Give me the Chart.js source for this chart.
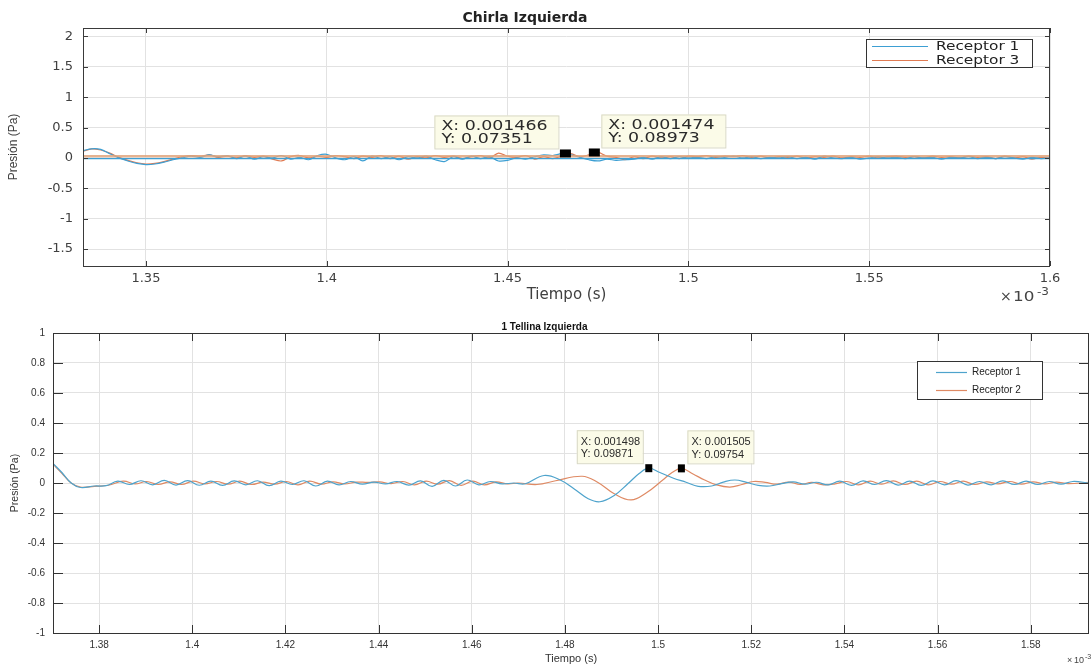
<!DOCTYPE html>
<html>
<head>
<meta charset="utf-8">
<script src="https://cdn.jsdelivr.net/npm/chart.js@4.4.1/dist/chart.umd.min.js"></script>
<style>
    html, body { margin: 0; padding: 0; background: #fff; overflow: hidden; }
    #wrap { position: relative; width: 1091px; height: 668px; }
    canvas { position: absolute; left: 0; }
    #chartChirla { top: 0; }
    #chartTellina { top: 310px; }
</style>
</head>
<body>
<div id="wrap">
    <canvas id="chartChirla" width="1091" height="310"></canvas>
    <canvas id="chartTellina" width="1091" height="358"></canvas>
</div>
<script>
// ---- Datos: Chirla Izquierda (tiempo en x10^-3 s) ----
const tiempoChirla = [
    1.3326, 1.335, 1.3375, 1.34, 1.3425, 1.345, 1.3475, 1.35, 1.3525, 1.355, 1.3575, 1.36,
    1.3625, 1.365, 1.3675, 1.37, 1.3725, 1.375, 1.3775, 1.38, 1.3825, 1.385, 1.3875, 1.39,
    1.3925, 1.395, 1.3975, 1.4, 1.4025, 1.405, 1.4075, 1.41, 1.4125, 1.415, 1.4175, 1.42,
    1.4225, 1.425, 1.4275, 1.43, 1.4325, 1.435, 1.4375, 1.44, 1.4425, 1.445, 1.4475, 1.45,
    1.4525, 1.455, 1.4575, 1.46, 1.4625, 1.465, 1.4675, 1.47, 1.4725, 1.475, 1.4775, 1.48,
    1.4825, 1.485, 1.4875, 1.49, 1.4925, 1.495, 1.4975, 1.5, 1.5025, 1.505, 1.5075, 1.51,
    1.5125, 1.515, 1.5175, 1.52, 1.5225, 1.525, 1.5275, 1.53, 1.5325, 1.535, 1.5375, 1.54,
    1.5425, 1.545, 1.5475, 1.55, 1.5525, 1.555, 1.5575, 1.56, 1.5625, 1.565, 1.5675, 1.57,
    1.5725, 1.575, 1.5775, 1.58, 1.5825, 1.585, 1.5875, 1.59, 1.5925, 1.595, 1.5975, 1.6
];
const chirlaReceptor1 = [
    0.12, 0.15, 0.14, 0.07, 0.0, -0.05, -0.09, -0.11, -0.1, -0.07, -0.03, 0.0,
    0.03, 0.01, 0.05, 0.02, 0.04, -0.01, 0.03, -0.02, 0.02, 0.0, 0.04, -0.02,
    0.01, -0.03, 0.04, 0.06, 0.0, -0.03, 0.02, -0.05, 0.03, -0.01, 0.02, -0.03,
    0.02, 0.0, 0.03, -0.03, -0.06, 0.02, -0.02, 0.03, -0.01, 0.02, -0.05, -0.04,
    0.0, -0.02, 0.02, 0.05, 0.04, 0.07, 0.05, 0.01, -0.03, -0.05, -0.02, -0.04,
    -0.03, -0.02, 0.01, -0.02, 0.02, -0.01, 0.02, 0.0, 0.01, -0.01, 0.02, 0.01,
    0.03, 0.0, 0.02, -0.01, 0.01, 0.0, 0.02, -0.01, 0.01, -0.02, 0.03, 0.0,
    -0.01, 0.01, -0.02, 0.0, 0.02, 0.0, 0.01, -0.01, 0.02, 0.0, 0.01, -0.02,
    0.01, 0.0, 0.02, -0.01, 0.01, -0.01, 0.02, 0.0, -0.02, 0.01, -0.01, 0.0
];
const chirlaReceptor3 = [
    0.11, 0.15, 0.13, 0.08, 0.01, -0.04, -0.08, -0.1, -0.09, -0.06, -0.02, 0.02,
    0.04, 0.03, 0.05, 0.01, 0.03, 0.0, 0.04, 0.01, 0.03, -0.02, -0.05, 0.02,
    0.04, 0.0, 0.03, 0.01, 0.04, 0.02, -0.01, 0.03, 0.01, 0.04, -0.01, 0.03,
    -0.02, 0.02, 0.0, 0.04, 0.01, 0.03, -0.01, 0.02, 0.04, 0.0, 0.08, 0.03,
    0.01, 0.04, -0.02, 0.02, -0.01, 0.03, 0.07, 0.02, 0.05, 0.09, 0.03, 0.01,
    -0.03, 0.02, -0.01, 0.03, 0.0, 0.02, -0.01, 0.03, 0.02, 0.04, 0.01, 0.03,
    0.02, 0.04, 0.01, 0.03, 0.0, 0.02, 0.01, 0.03, 0.0, 0.02, 0.01, 0.03,
    0.0, 0.02, 0.01, 0.03, 0.0, 0.02, 0.03, 0.01, 0.02, 0.0, 0.03, 0.01,
    0.02, 0.0, 0.03, 0.01, 0.02, -0.01, 0.03, 0.0, 0.02, -0.02, 0.01, -0.01
];
// lineas planas que cruzan todo el eje
const chirlaBase1 = -0.01;
const chirlaBase3 = 0.03;
const chirlaTicksX = [1.35, 1.4, 1.45, 1.5, 1.55, 1.6];
const chirlaTicksY = [-1.5, -1, -0.5, 0, 0.5, 1, 1.5, 2];
const chirlaTipX = [1.466, 1.474];
const chirlaTipY = [0.07351, 0.08973];

// ---- Datos: 1 Tellina Izquierda ----
const tiempoTellina1 = [
    1.3701, 1.372, 1.374, 1.376, 1.379, 1.3815,
    1.384, 1.3865, 1.389, 1.3915, 1.394, 1.3965, 1.399, 1.4015, 1.404, 1.4065, 1.409, 1.4115,
    1.414, 1.4165, 1.419, 1.4215, 1.424, 1.4265, 1.429, 1.4315, 1.434, 1.4365, 1.439, 1.4415,
    1.444, 1.4465, 1.449, 1.4515, 1.454, 1.4565, 1.459, 1.4615, 1.464, 1.4665, 1.469,
    1.4715, 1.4755, 1.479, 1.482, 1.485, 1.4875, 1.4905, 1.4935, 1.496, 1.498, 1.5005, 1.5033, 1.506, 1.5086,
    1.5115, 1.514, 1.5165, 1.519, 1.5215, 1.524, 1.5265, 1.529, 1.5315, 1.534, 1.5365, 1.539,
    1.5415, 1.544, 1.5465, 1.549, 1.5515, 1.554, 1.5565, 1.559, 1.5615, 1.564, 1.5665, 1.569,
    1.5715, 1.574, 1.5765, 1.579, 1.5815, 1.584, 1.5865, 1.589, 1.5925
];
const tellinaReceptor1 = [
    0.13, 0.07, 0.0, -0.03, -0.02, -0.018,
    0.012, -0.01, 0.015, -0.012, 0.018, -0.014, 0.016, -0.015, 0.012, -0.016, 0.014, -0.012,
    0.015, -0.018, 0.012, -0.01, 0.015, -0.02, 0.012, -0.012, 0.01, -0.008, 0.006, -0.006,
    0.01, -0.014, 0.014, -0.022, 0.018, -0.02, 0.02, -0.012, 0.01, -0.006, 0.0,
    -0.005, 0.05, 0.02, -0.04, -0.105, -0.125, -0.085, -0.005, 0.065, 0.0987, 0.068, 0.032, 0.005, -0.022,
    -0.02, 0.006, 0.02, 0.004, -0.016, -0.02, -0.004, 0.008, -0.008, 0.005, -0.012, 0.012,
    -0.016, 0.014, -0.01, 0.016, -0.014, 0.012, -0.016, 0.014, -0.012, 0.016, -0.014, 0.01,
    -0.012, 0.014, -0.01, 0.012, -0.01, 0.01, -0.008, 0.01, 0.0
];
const tiempoTellina2 = [
    1.3701, 1.372, 1.374, 1.376, 1.379, 1.382,
    1.3852, 1.3877, 1.3902, 1.3927, 1.3952, 1.3977, 1.4002, 1.4027, 1.4052, 1.4077, 1.4102, 1.4127,
    1.4152, 1.4177, 1.4202, 1.4227, 1.4252, 1.4277, 1.4302, 1.4327, 1.4352, 1.4377, 1.4402, 1.4427,
    1.4452, 1.4477, 1.4502, 1.4527, 1.4552, 1.4577, 1.4602, 1.4627, 1.4652, 1.4677,
    1.47, 1.474, 1.478, 1.4837, 1.487, 1.4905, 1.4942, 1.4975, 1.501, 1.503, 1.505, 1.5075, 1.51, 1.5125, 1.5154, 1.518,
    1.5205, 1.523, 1.5255, 1.528, 1.5305, 1.533, 1.5355, 1.538, 1.5405, 1.543, 1.5455, 1.548,
    1.5505, 1.553, 1.5555, 1.558, 1.5605, 1.563, 1.5655, 1.568, 1.5705, 1.573, 1.5755, 1.578,
    1.5805, 1.583, 1.5855, 1.588, 1.5925
];
const tellinaReceptor2 = [
    0.125, 0.065, 0.0, -0.028, -0.022, -0.015,
    0.012, -0.006, 0.01, -0.01, 0.008, -0.01, 0.012, -0.006, 0.01, -0.008, 0.012, -0.01,
    0.006, -0.008, 0.01, -0.012, 0.012, -0.008, 0.008, -0.006, 0.006, 0.004, 0.008, -0.004,
    0.01, -0.012, 0.012, -0.008, 0.016, -0.016, 0.012, -0.012, 0.008, -0.006,
    0.0, -0.01, 0.015, 0.045, 0.005, -0.07, -0.113, -0.065, 0.02, 0.07, 0.0975, 0.06, 0.02, -0.012, -0.027, -0.01,
    0.01, 0.004, -0.008, 0.006, -0.01, 0.004, -0.012, -0.006, 0.01, -0.012, 0.012, -0.008,
    0.014, -0.01, 0.012, -0.012, 0.01, -0.008, 0.012, -0.01, 0.008, -0.006, 0.01, -0.008,
    0.008, -0.006, 0.006, -0.004, 0.004
];
const tellinaTicksX = [1.38, 1.4, 1.42, 1.44, 1.46, 1.48, 1.5, 1.52, 1.54, 1.56, 1.58];
const tellinaTicksY = [-1, -0.8, -0.6, -0.4, -0.2, 0, 0.2, 0.4, 0.6, 0.8, 1];
const tellinaTipX = [1.498, 1.505];
const tellinaTipY = [0.09871, 0.09754];

function puntos(ts, vs) {
    return ts.map((t, i) => ({ x: t, y: vs[i] }));
}

function textoAncho(ctx, txt, x, y, s) {
    ctx.save();
    ctx.translate(x, y);
    ctx.scale(s, 1);
    ctx.fillText(txt, 0, 0);
    ctx.restore();
}

// marco estilo MATLAB, ticks hacia dentro, datatips, leyenda y exponente
function decoracion(cfg) {
    return {
        id: 'decoracion',
        afterDatasetsDraw(chart) {
            const ctx = chart.ctx, a = chart.chartArea;
            const sx = chart.scales.x, sy = chart.scales.y;
            ctx.save();
            ctx.strokeStyle = cfg.marco;
            ctx.lineWidth = 1;
            ctx.beginPath();
            sx.ticks.forEach(t => {
                const px = Math.round(sx.getPixelForValue(t.value)) + 0.5;
                ctx.moveTo(px, a.bottom); ctx.lineTo(px, a.bottom - cfg.tickX);
                ctx.moveTo(px, a.top); ctx.lineTo(px, a.top + cfg.tickX);
            });
            sy.ticks.forEach(t => {
                const py = Math.round(sy.getPixelForValue(t.value)) + 0.5;
                ctx.moveTo(a.left, py); ctx.lineTo(a.left + cfg.tickY, py);
                ctx.moveTo(a.right, py); ctx.lineTo(a.right - cfg.tickY, py);
            });
            ctx.stroke();
            ctx.strokeRect(Math.round(a.left) + 0.5, Math.round(a.top) + 0.5,
                Math.round(a.width) - 1, Math.round(a.height));

            // datatips
            cfg.tipX.forEach((xv, i) => {
                const px = sx.getPixelForValue(xv), py = sy.getPixelForValue(cfg.tipY[i]);
                const bx = i === 0 ? px - cfg.tipGap - cfg.tipW : px + cfg.tipGap;
                const by = py - cfg.tipLift - cfg.tipH;
                ctx.fillStyle = '#fbfbe8';
                ctx.strokeStyle = '#d9d9c6';
                ctx.fillRect(bx, by, cfg.tipW, cfg.tipH);
                ctx.strokeRect(bx + 0.5, by + 0.5, cfg.tipW, cfg.tipH);
                ctx.fillStyle = '#2a2a2a';
                ctx.font = cfg.tipFont;
                ctx.textBaseline = 'middle';
                ctx.textAlign = 'left';
                textoAncho(ctx, 'X: ' + (xv / 1000).toFixed(6), bx + cfg.tipPad, by + cfg.tipLines[0], cfg.estirar);
                textoAncho(ctx, 'Y: ' + String(cfg.tipY[i]), bx + cfg.tipPad, by + cfg.tipLines[1], cfg.estirar);
                ctx.fillStyle = '#000';
                ctx.fillRect(px - cfg.marca[0] / 2, py - cfg.marca[1] / 2, cfg.marca[0], cfg.marca[1]);
            });

            // leyenda
            const L = cfg.leyenda;
            const lx = a.right - L.dx - L.w, ly = a.top + L.dy;
            ctx.fillStyle = '#fff';
            ctx.fillRect(lx, ly, L.w, L.h);
            ctx.strokeStyle = '#333';
            ctx.strokeRect(lx + 0.5, ly + 0.5, L.w, L.h);
            ctx.font = L.font;
            ctx.textBaseline = 'middle';
            chart.data.datasets.filter(d => d.label).forEach((d, i) => {
                const yy = Math.round(ly + L.fila0 + i * L.filaH) + 0.5;
                ctx.strokeStyle = d.borderColor;
                ctx.lineWidth = 1.2;
                ctx.beginPath();
                ctx.moveTo(lx + L.l0, yy); ctx.lineTo(lx + L.l1, yy);
                ctx.stroke();
                ctx.fillStyle = '#222';
                textoAncho(ctx, d.label, lx + L.tx, yy, L.estirar);
            });

            // exponente del eje x
            const E = cfg.exp;
            ctx.fillStyle = '#444';
            ctx.textBaseline = 'middle';
            ctx.font = E.font;
            textoAncho(ctx, '\u00d7', a.right + E.dx, E.y, 1);
            textoAncho(ctx, '10', a.right + E.dx + E.w1, E.y, E.estirar);
            ctx.font = E.supFont;
            textoAncho(ctx, '-3', a.right + E.dx + E.w2, E.y - E.sup, E.estirar);
            ctx.restore();
        }
    };
}

const AZUL = '#3d9fd3', NARANJA = '#e07b53';
const xmin1 = 1.3326, xmax1 = 1.6;

new Chart(document.getElementById('chartChirla'), {
    type: 'line',
    data: {
        datasets: [
            { label: '', data: puntos([xmin1, xmax1], [chirlaBase3, chirlaBase3]), borderColor: 'rgba(225,165,125,0.85)', borderWidth: 2.2, pointRadius: 0 },
            { label: '', data: puntos([xmin1, xmax1], [chirlaBase1, chirlaBase1]), borderColor: AZUL, borderWidth: 1.2, pointRadius: 0 },
            { label: 'Receptor 1', data: puntos(tiempoChirla, chirlaReceptor1), borderColor: AZUL, borderWidth: 1.2, pointRadius: 0, tension: 0.3 },
            { label: 'Receptor 3', data: puntos(tiempoChirla, chirlaReceptor3), borderColor: NARANJA, borderWidth: 1.2, pointRadius: 0, tension: 0.3 }
        ]
    },
    options: {
        responsive: false,
        animation: false,
        devicePixelRatio: 1,
        layout: { padding: { left: 0, right: 41, top: 0, bottom: 0 } },
        plugins: {
            legend: { display: false },
            tooltip: { enabled: false },
            title: {
                display: true, text: 'Chirla Izquierda', color: '#222',
                font: { family: "'DejaVu Sans'", size: 14, weight: 'bold' },
                padding: { top: 10, bottom: 1.2 }
            }
        },
        scales: {
            x: {
                type: 'linear', min: xmin1, max: xmax1,
                afterBuildTicks: s => { s.ticks = chirlaTicksX.map(v => ({ value: v })); },
                afterFit: s => { s.height = 44; },
                grid: { color: '#e2e2e2', drawTicks: false },
                border: { display: false },
                ticks: { callback: v => String(v), color: '#404040', padding: 5, maxRotation: 0, font: { family: "'DejaVu Sans'", size: 13 } },
                title: { display: true, text: 'Tiempo (s)', color: '#404040', font: { family: "'DejaVu Sans'", size: 15 }, padding: { top: 0, bottom: 6 } }
            },
            y: {
                min: -1.78, max: 2.14,
                afterBuildTicks: s => { s.ticks = chirlaTicksY.map(v => ({ value: v })); },
                afterFit: s => { s.width = 83; },
                grid: { color: '#e2e2e2', drawTicks: false },
                border: { display: false },
                ticks: { callback: v => String(v), color: '#404040', padding: 10, font: { family: "'DejaVu Sans'", size: 13 } },
                title: { display: true, text: 'Presión (Pa)', color: '#404040', font: { family: "'Liberation Sans', Arial", size: 12 }, padding: { top: 6.8, bottom: 0 } }
            }
        }
    },
    plugins: [decoracion({
        marco: '#3a3a3a', tickX: 5, tickY: 5,
        tipX: chirlaTipX, tipY: chirlaTipY,
        tipW: 124, tipH: 33, tipGap: 7, tipLift: 5, tipPad: 7, tipLines: [11, 24],
        tipFont: "14px 'DejaVu Sans'", estirar: 1.24, marca: [11, 8],
        leyenda: { dx: 18, dy: 11, w: 166, h: 28, fila0: 7, filaH: 14, l0: 6, l1: 62, tx: 70, font: "13px 'DejaVu Sans'", estirar: 1.18 },
        exp: { font: "14px 'DejaVu Sans'", supFont: "10px 'DejaVu Sans'", dx: -50, w1: 13, w2: 37, y: 297, sup: 5, estirar: 1.2 }
    })]
});

const AZUL2 = '#4ea3cc', NARANJA2 = '#df8a64';
const FAM = "'Liberation Sans', Arial, sans-serif";

new Chart(document.getElementById('chartTellina'), {
    type: 'line',
    data: {
        datasets: [
            { label: 'Receptor 1', data: puntos(tiempoTellina1, tellinaReceptor1), borderColor: AZUL2, borderWidth: 1.2, pointRadius: 0, tension: 0.4 },
            { label: 'Receptor 2', data: puntos(tiempoTellina2, tellinaReceptor2), borderColor: NARANJA2, borderWidth: 1.2, pointRadius: 0, tension: 0.4 }
        ]
    },
    options: {
        responsive: false,
        animation: false,
        devicePixelRatio: 1,
        layout: { padding: { left: 0, right: 2, top: 0, bottom: 0 } },
        plugins: {
            legend: { display: false },
            tooltip: { enabled: false },
            title: {
                display: true, text: '1 Tellina Izquierda', color: '#111',
                font: { family: FAM, size: 10, weight: 'bold' },
                padding: { top: 11, bottom: 0 }
            }
        },
        scales: {
            x: {
                type: 'linear', min: 1.3701, max: 1.5925,
                afterBuildTicks: s => { s.ticks = tellinaTicksX.map(v => ({ value: v })); },
                afterFit: s => { s.height = 35; },
                grid: { color: '#e2e2e2', drawTicks: false },
                border: { display: false },
                ticks: { callback: v => String(v), color: '#333', padding: 6, maxRotation: 0, font: { family: FAM, size: 10 } },
                title: { display: true, text: 'Tiempo (s)', color: '#333', font: { family: FAM, size: 11 }, padding: { top: 0, bottom: 2 } }
            },
            y: {
                min: -1, max: 1,
                afterBuildTicks: s => { s.ticks = tellinaTicksY.map(v => ({ value: v })); },
                afterFit: s => { s.width = 53; },
                grid: { color: '#e2e2e2', drawTicks: false },
                border: { display: false },
                ticks: { callback: v => String(v), color: '#333', padding: 8, font: { family: FAM, size: 10 } },
                title: { display: true, text: 'Presión (Pa)', color: '#333', font: { family: FAM, size: 10.5 }, padding: { top: 8.7, bottom: 0 } }
            }
        }
    },
    plugins: [decoracion({
        marco: '#333', tickX: 8, tickY: 10,
        tipX: tellinaTipX, tipY: tellinaTipY,
        tipW: 66, tipH: 33, tipGap: 6, tipLift: 5, tipPad: 4, tipLines: [12, 24.5],
        tipFont: "10px " + FAM, estirar: 1.1, marca: [7, 8],
        leyenda: { dx: 47, dy: 28, w: 125, h: 38, fila0: 11, filaH: 18, l0: 19, l1: 50, tx: 55, font: "10px " + FAM, estirar: 1.0 },
        exp: { font: "9px " + FAM, supFont: "7px " + FAM, dx: -22, w1: 7, w2: 18, y: 351, sup: 4, estirar: 1 }
    })]
});
</script>
</body>
</html>
